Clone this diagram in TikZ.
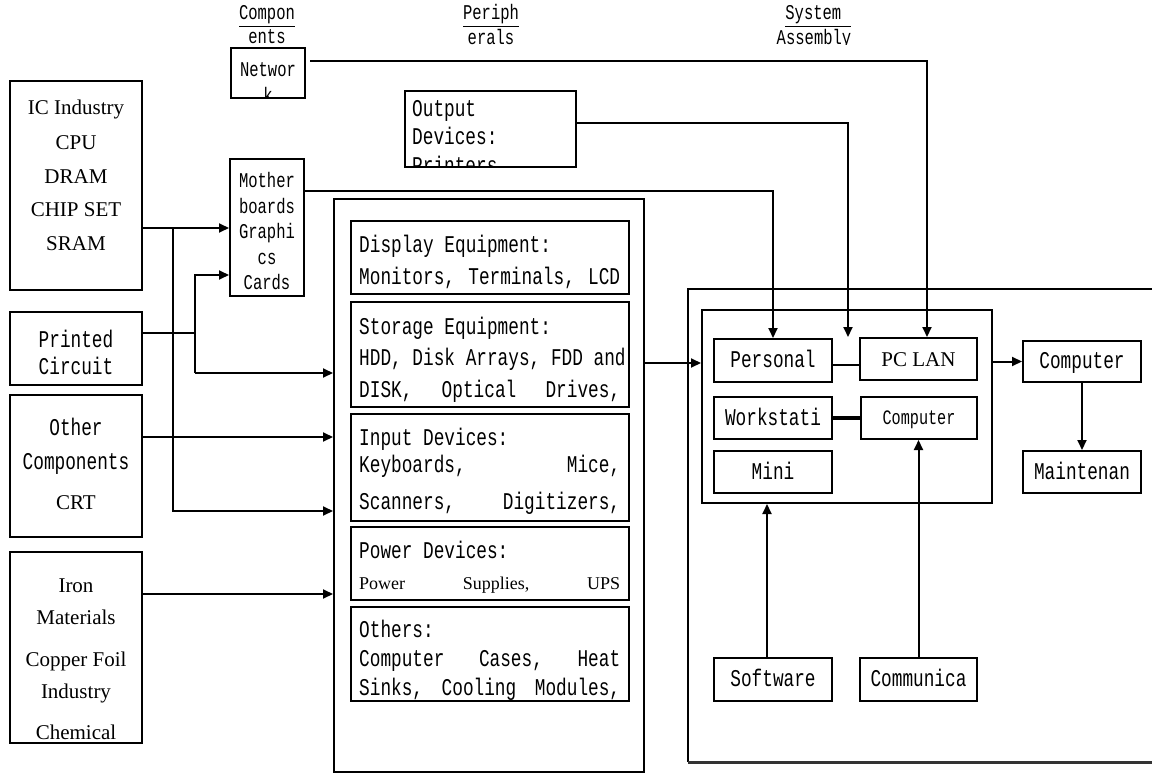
\documentclass[tikz,border=0pt]{standalone}
\usepackage{fontspec}
\setmainfont{Liberation Serif}
\newfontfamily\mono[FakeStretch=0.74]{Liberation Mono}
\usetikzlibrary{arrows.meta,fit,calc}
\tikzset{
  box/.style={draw, line width=2pt, inner sep=0pt},
  conn/.style={line width=2pt},
  arr/.style={conn, -{Triangle[length=10pt,width=9pt]}},
  tx/.style={inner sep=0pt, text height=17pt, text depth=3pt},
  tm/.style={tx, font=\mono\fontsize{24}{28}\selectfont},
  tms/.style={inner sep=0pt, text height=15pt, text depth=3pt, font=\mono\fontsize{21}{25}\selectfont},
  tmx/.style={inner sep=0pt, text height=15pt, text depth=3pt, font=\mono\fontsize{20.5}{24}\selectfont},
  ts/.style={tx, font=\fontsize{21}{25}\selectfont},
  tss/.style={inner sep=0pt, text height=15pt, text depth=3pt, font=\fontsize{18}{22}\selectfont},
  lt/.style={anchor=west},
}
\begin{document}
\begin{tikzpicture}[x=1pt,y=-1pt]
\useasboundingbox (0,0) rectangle (1152,773);

% headers
\node[tms] (hC1) at (267,14) {\underline{Compon}};
\node[tms] (hC2) at (267,38) {ents};
\node[tms] (hP1) at (491,14) {\underline{Periph}};
\node[tms] (hS1) at (818,14) {\underline{System~}};
\begin{scope}
  \clip (380,25) rectangle (900,45);
  \node[tms] (hP2) at (491,39) {erals};
  \node[tms] (hS2) at (814,39) {Assembly};
\end{scope}

% left boxes
\node[box, fit={(231,48) (305,98)}] (net) {};
\begin{scope}
  \clip (net.south west) rectangle (net.north east);
  \node[tms] (netT1) at (268,71) {Networ};
  \node[tms] (netT2) at (268,97) {k};
\end{scope}

\node[box, fit={(405,91) (576,167)}] (out) {};
\begin{scope}
  \clip (out.south west) rectangle (out.north east);
  \node[tm,lt] (outT1) at (412,110) {Output};
  \node[tm,lt] (outT2) at (412,138) {Devices:};
  \node[tm,lt] (outT3) at (412,167) {Printers};
\end{scope}

\node[box, fit={(10,81) (142,290)}] (ic) {};
\node[ts] (icT1) at (76,108) {IC Industry};
\node[ts] (icT2) at (76,143) {CPU};
\node[ts] (icT3) at (76,176) {DRAM};
\node[ts] (icT4) at (76,210) {CHIP SET};
\node[ts] (icT5) at (76,244) {SRAM};

\node[box, fit={(230,159) (304,296)}] (mb) {};
\node[tms] (mbT1) at (267,182) {Mother};
\node[tms] (mbT2) at (267,207) {boards};
\node[tms] (mbT3) at (267,232) {Graphi};
\node[tms] (mbT4) at (267,258) {cs};
\node[tms] (mbT5) at (267,283) {Cards};

\node[box, fit={(10,312) (142,385)}] (pc) {};
\node[tm] (pcT1) at (76,340) {Printed};
\node[tm] (pcT2) at (76,367) {Circuit};

\node[box, fit={(10,395) (142,537)}] (oc) {};
\node[tm] (ocT1) at (76,428) {Other};
\node[tm] (ocT2) at (76,462) {Components};
\node[ts] (ocT3) at (76,502) {CRT};

\node[box, fit={(10,552) (142,743)}] (iron) {};
\begin{scope}
  \clip (iron.south west) rectangle (iron.north east);
  \node[ts] (irT1) at (76,585) {Iron};
  \node[ts] (irT2) at (76,617) {Materials};
  \node[ts] (irT3) at (76,659) {Copper Foil};
  \node[ts] (irT4) at (76,691) {Industry};
  \node[ts] (irT5) at (76,732) {Chemical};
\end{scope}

% middle column
\node[box, fit={(334,199) (644,772)}] (big) {};
\node[box, fit={(351,221) (629,294)}] (disp) {};
\node[tm,lt] (dT1) at (359,245) {Display Equipment:};
\node[tm,lt] (dT2) at (359,277) {\makebox[261pt][l]{Monitors,\hfill Terminals,\hfill LCD}};

\node[box, fit={(351,302) (629,407)}] (stor) {};
\node[tm,lt] (sT1) at (359,327) {Storage Equipment:};
\node[tm,lt] (sT2) at (359,358) {HDD, Disk Arrays, FDD and};
\node[tm,lt] (sT3) at (359,390) {\makebox[261pt][l]{DISK,\hfill Optical\hfill Drives,}};

\node[box, fit={(351,414) (629,521)}] (inp) {};
\node[tm,lt] (iT1) at (359,438) {Input Devices:};
\node[tm,lt] (iT2) at (359,465) {\makebox[261pt][l]{Keyboards,\hfill Mice,}};
\node[tm,lt] (iT3) at (359,502) {\makebox[261pt][l]{Scanners,\hfill Digitizers,}};

\node[box, fit={(351,527) (629,600)}] (pow) {};
\node[tm,lt] (pT1) at (359,551) {Power Devices:};
\node[tss,lt] (pT2) at (359,583) {\makebox[261pt][l]{Power\hfill Supplies,\hfill UPS}};

\node[box, fit={(351,607) (629,701)}] (oth) {};
\begin{scope}
  \clip (oth.south west) rectangle (oth.north east);
  \node[tm,lt] (oT1) at (359,630) {Others:};
  \node[tm,lt] (oT2) at (359,659) {\makebox[261pt][l]{Computer\hfill Cases,\hfill Heat}};
  \node[tm,lt] (oT3) at (359,688) {\makebox[261pt][l]{Sinks,\hfill Cooling\hfill Modules,}};
\end{scope}

% right area
\draw[line width=2pt] (1152,289) -- (688,289) -- (688,762);
\draw[line width=3pt, black!80] (688,762) -- (1152,762);

\node[box, fit={(702,310) (992,503)}] (inner) {};
\node[box, fit={(714,339) (832,382)}] (pers) {};
\node[box, fit={(860,338) (977,380)}] (lan) {};
\node[box, fit={(714,397) (832,439)}] (work) {};
\node[box, fit={(861,397) (977,439)}] (comp) {};
\node[box, fit={(714,451) (832,493)}] (mini) {};
\node[box, fit={(1023,341) (1141,382)}] (comp2) {};
\node[box, fit={(1023,451) (1141,493)}] (maint) {};
\node[box, fit={(714,658) (832,701)}] (soft) {};
\node[box, fit={(860,658) (977,701)}] (comm) {};
\node[tm] (persT) at (pers.center) {Personal};
\node[ts] (lanT) at (lan.center) {PC LAN};
\node[tm] (workT) at (work.center) {Workstati};
\node[tmx] (compT) at (comp.center) {Computer};
\node[tm] (miniT) at (mini.center) {Mini};
\node[tm] (comp2T) at (comp2.center) {Computer};
\node[tm] (maintT) at (maint.center) {Maintenan};
\node[tm] (softT) at (soft.center) {Software};
\node[tm] (commT) at (comm.center) {Communica};

% helper coordinates
\coordinate (y61) at (0,61);
\coordinate (y123) at (0,123);
\coordinate (y191) at (0,191);
\coordinate (y228) at (0,228);
\coordinate (y275) at (0,275);
\coordinate (y333) at (0,333);
\coordinate (y373) at (0,373);
\coordinate (y437) at (0,437);
\coordinate (y511) at (0,511);
\coordinate (y594) at (0,594);
\coordinate (y363) at (0,363);
\coordinate (y365) at (0,365);
\coordinate (x173) at (173,0);
\coordinate (x195) at (195,0);
\coordinate (lanIn) at ($(lan.north)+(8.5,0)$);
\coordinate (outEnd) at (848,337);
\coordinate (sa) at ($(soft.north)+(-6,0)$);

% connectors
\draw[arr] ($(net.east |- y61)+(4,0)$) -| (lanIn);
\draw[arr] (out.east |- y123) -| (outEnd);
\draw[arr] (mb.east |- y191) -| (pers.north);
\draw[arr] (ic.east |- y228) -- (mb.west |- y228);
\draw[arr] (x173 |- y228) |- (big.west |- y511);
\draw[conn] (pc.east |- y333) -- (x195 |- y333);
\draw[arr] (x195 |- y373) |- (mb.west |- y275);
\draw[arr] (x195 |- y373) -- (big.west |- y373);
\draw[arr] (oc.east |- y437) -- (big.west |- y437);
\draw[arr] (iron.east |- y594) -- (big.west |- y594);
\draw[arr] (big.east |- y363) -- (inner.west |- y363);
\draw[conn] (pers.east |- y365) -- (lan.west |- y365);
\draw[line width=3.5pt] (work.east) -- (comp.west);
\draw[arr] (inner.east |- comp2.west) -- (comp2.west);
\draw[arr] (comp2.south) -- (maint.north);
\draw[arr] (sa) -- (sa |- inner.south);
\draw[arr] (comm.north) -- (comm.north |- comp.south);
\end{tikzpicture}
\end{document}
